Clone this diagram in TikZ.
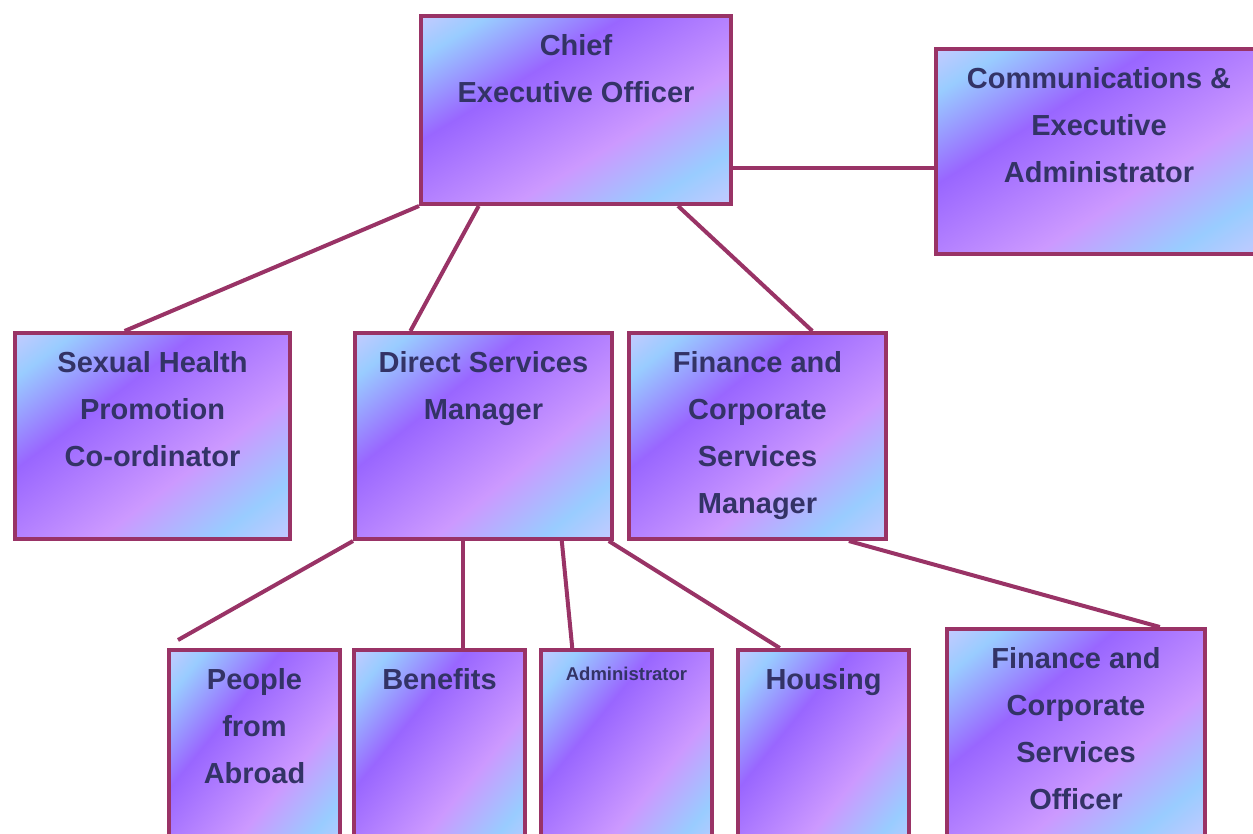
\documentclass[tikz,border=0pt]{standalone}
\usepackage{fontspec}
\setmainfont{Liberation Sans}
\usepackage{tikz}
\usetikzlibrary{positioning,calc}

\definecolor{boxline}{HTML}{993366}
\definecolor{boxtext}{HTML}{333366}
\definecolor{gradlav}{HTML}{C4CAFF}
\definecolor{gradblue}{HTML}{99CCFF}
\definecolor{gradpurple}{HTML}{9966FF}
\definecolor{gradpink}{HTML}{CC99FF}
\pgfdeclarehorizontalshading{boxgrad}{100bp}{color(0bp)=(gradlav); color(11bp)=(gradblue); color(33bp)=(gradpurple); color(65bp)=(gradpink); color(86bp)=(gradblue); color(100bp)=(gradlav)}

% diagonal gradient stretched corner to corner over the box
\newcommand\boxgradient{%
  \pgfpointanchor{path picture bounding box}{north west}\pgfgetlastxy{\gxa}{\gya}%
  \pgfpointanchor{path picture bounding box}{south east}\pgfgetlastxy{\gxb}{\gyb}%
  \pgfmathsetmacro\gw{(\gxb-\gxa)/100.375}%
  \pgfmathsetmacro\gh{(\gya-\gyb)/100.375}%
  \pgfscope
    \pgftransformshift{\pgfqpoint{\gxa}{\gya}}%
    \pgftransformcm{\gw}{-\gh}{\gw}{\gh}{\pgfpointorigin}%
    \pgftransformshift{\pgfqpoint{50bp}{0bp}}%
    \pgflowlevelsynccm
    \pgfuseshading{boxgrad}%
  \endpgfscope}

\begin{document}
\begin{tikzpicture}[x=1pt,y=1pt,node distance=100pt,on grid,
    box/.style={draw=boxline,line width=4pt,fill=gradpurple!60!gradpink,
      path picture={\boxgradient},
      text=boxtext,align=center,inner sep=0pt,
      font=\fontsize{29pt}{47pt}\selectfont\bfseries},
    link/.style={draw=boxline,line width=4pt}]
  \useasboundingbox (0,0) rectangle (1253,-833);
  \clip (0,0) rectangle (1253,-833);
  \node[box,minimum width=310pt,text height=86pt,text depth=102pt] (ceo) at (576,-110) {Chief\\Executive Officer};
  \node[box,minimum width=326pt,text height=133pt,text depth=72pt] (comms) [below right=41.5pt and 523pt of ceo] {Communications \&\\Executive\\Administrator};
  \node[box,minimum width=275pt,text height=133pt,text depth=73pt] (sexhealth) [below left=326pt and 423.5pt of ceo] {Sexual Health\\Promotion\\Co-ordinator};
  \node[box,minimum width=257pt,text height=86pt,text depth=120pt] (dsm) [right=331pt of sexhealth] {Direct Services\\Manager};
  \node[box,minimum width=257pt,text height=180pt,text depth=26pt] (fcsm) [right=274pt of dsm] {Finance and\\Corporate\\Services\\Manager};
  \node[box,minimum width=171pt,text height=133pt,text depth=77pt] (abroad) [below left=319pt and 229pt of dsm] {People\\from\\Abroad};
  \node[box,minimum width=171pt,text height=39pt,text depth=171pt] (benefits) [right=185pt of abroad] {Benefits};
  \node[box,minimum width=171pt,text height=30pt,text depth=180pt,
    font=\fontsize{18.5pt}{22pt}\selectfont\bfseries] (admin) [right=187pt of benefits] {Administrator};
  \node[box,minimum width=171pt,text height=39pt,text depth=171pt] (housing) [right=197pt of admin] {Housing};
  \node[box,minimum width=258pt,text height=180pt,text depth=30pt] (fcso) [below right=298pt and 318.5pt of fcsm] {Finance and\\Corporate\\Services\\Officer};

  \draw[link] ($(ceo.south east)!0.2!(ceo.north east)$) coordinate (ceoside) -- (ceoside -| comms.west);
  \draw[link] (ceo.south west) -- ($(sexhealth.north west)!0.4!(sexhealth.north east)$);
  \draw[link] ($(ceo.south west)!0.19!(ceo.south east)$) -- ($(dsm.north west)!0.22!(dsm.north east)$);
  \draw[link] ($(ceo.south west)!0.825!(ceo.south east)$) -- ($(fcsm.north west)!0.71!(fcsm.north east)$);
  \coordinate[above right=8pt and 11pt of abroad.north west] (abroadend);
  \draw[link] (dsm.south west) -- (abroadend);
  \draw[link] ($(dsm.south west)!0.42!(dsm.south east)$) coordinate (dsmmid) -- (dsmmid |- benefits.north);
  \draw[link] ($(dsm.south west)!0.8!(dsm.south east)$) -- ($(admin.north west)!0.19!(admin.north east)$);
  \draw[link] ($(dsm.south west)!0.98!(dsm.south east)$) -- ($(housing.north west)!0.25!(housing.north east)$);
  \draw[link] ($(fcsm.south west)!0.85!(fcsm.south east)$) -- ($(fcso.north west)!0.82!(fcso.north east)$);
\end{tikzpicture}
\end{document}
